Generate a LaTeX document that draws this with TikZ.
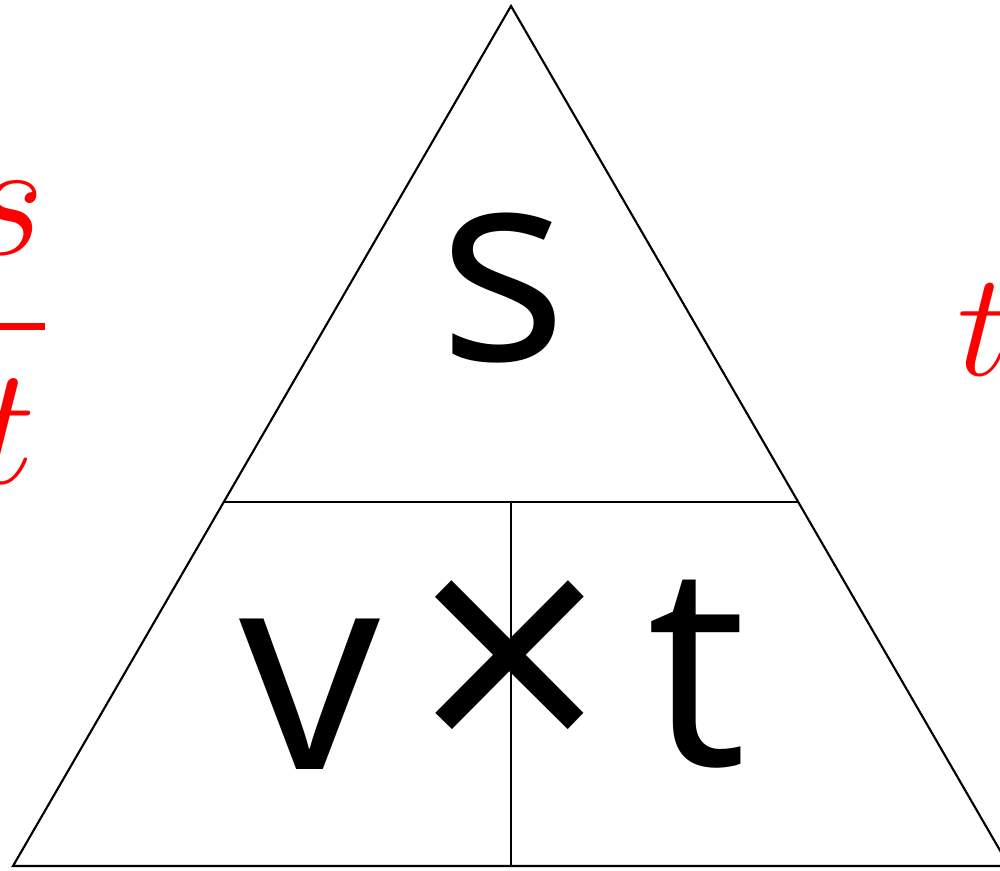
\documentclass[tikz,border=0pt]{standalone}
\usepackage{amsmath}
\usepackage{fontspec}
\setmainfont{Open Sans}
\usetikzlibrary{calc, positioning}

\begin{document}
\begin{tikzpicture}[x=0.01cm, y=-0.01cm,
  edge/.style={draw=black, line width=0.6pt},
  big/.style={font=\fontsize{80}{90}\selectfont, inner sep=0pt},
  redtext/.style={text=red, font=\Huge, scale=1.92, inner sep=0pt}
]
  \useasboundingbox (0,0) rectangle (1000,871);

  % triangle corners
  \coordinate (apex) at (511,6);
  \coordinate (bl) at (13,866);
  \coordinate (br) at (1009,866);
  \coordinate (ml) at ($(apex)!0.5767!(bl)$);
  \coordinate (mr) at ($(apex)!0.5767!(br)$);
  \coordinate (mid) at (511,502);
  \coordinate (bm) at (511,866);

  \draw[edge] (apex) -- (bl) -- (br) -- cycle;
  \draw[edge] (ml) -- (mr);
  \draw[edge] (mid) -- (bm);

  \node[big, font=\fontsize{77}{90}\selectfont] (s) at (503,288) {s};
  \node[big, anchor=base] (v) at (310,770) {v};
  \node[big, font=\fontsize{96}{100}\selectfont] (times) at (510,678) {×};
  \node[big, anchor=base] (t) at (697,766) {t};

  % red hints at the sides
  \node[redtext] (frac) at (6,333) {$\displaystyle\frac{s}{t}$};
  \node[redtext, scale=0.88] (tright) at (984,330) {$t$};
\end{tikzpicture}
\end{document}
